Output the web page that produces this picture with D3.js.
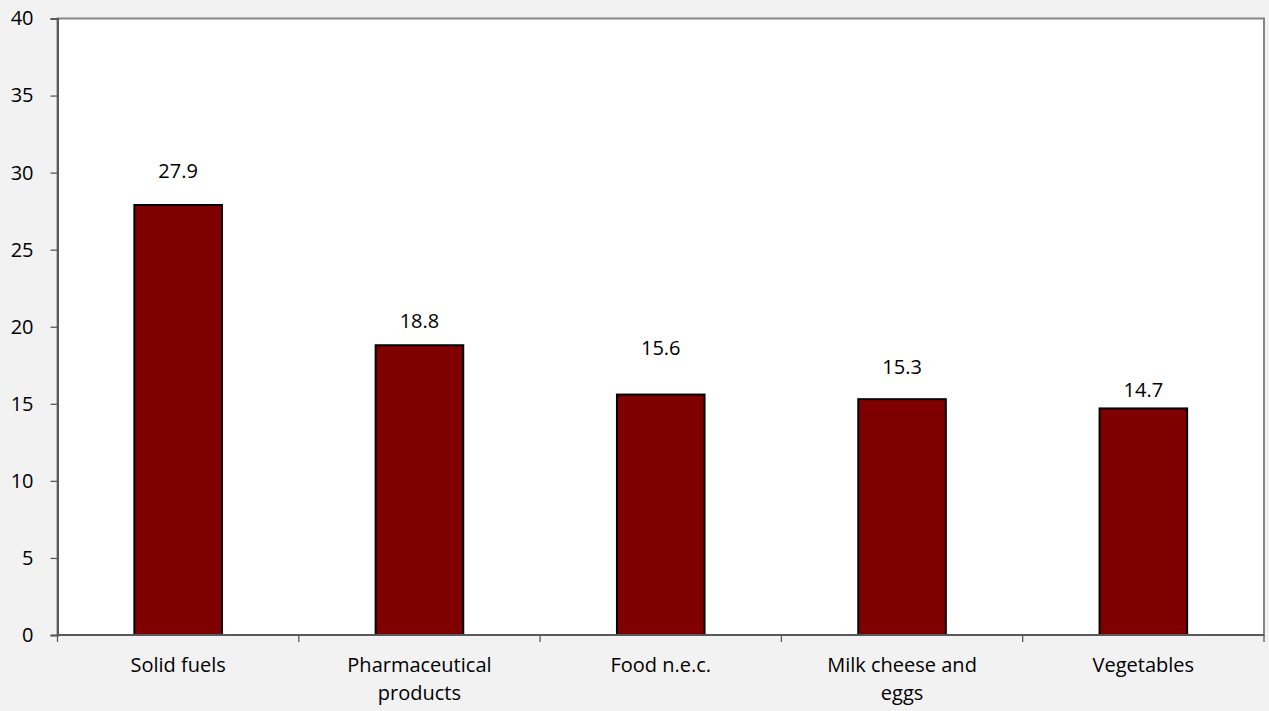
<!DOCTYPE html>
<html>
<head>
<meta charset="utf-8">
<script src="https://cdn.jsdelivr.net/npm/d3@7"></script>
<style>
	html, body { margin: 0; padding: 0; background: #f2f2f2; }
	svg { display: block; font-family: "Open Sans", sans-serif; }
</style>
</head>
<body>
<script>
const categories = ["Solid fuels", "Pharmaceutical products", "Food n.e.c.", "Milk cheese and eggs", "Vegetables"];
const values = [27.9, 18.8, 15.6, 15.3, 14.7];
const yTicks = [0, 5, 10, 15, 20, 25, 30, 35, 40];
const categoryLines = [["Solid fuels"], ["Pharmaceutical", "products"], ["Food n.e.c."], ["Milk cheese and", "eggs"], ["Vegetables"]];

// label offsets above the bar top, in px (excel placed them by hand)
const labelLift = [34, 24, 47, 32, 18];

const width = 1269, height = 711;
const margin = {top: 18.5, right: 5, bottom: 76, left: 57.5};
const fontSize = 20;

const svg = d3.select("body").append("svg")
	.attr("width", width)
	.attr("height", height);

const x = d3.scaleBand()
	.domain(categories)
	.range([margin.left, width - margin.right])
	.paddingInner(0.637)
	.paddingOuter(0.3185);

const band = d3.scaleBand()
	.domain(categories)
	.range([margin.left, width - margin.right]);

const y = d3.scaleLinear()
	.domain([0, 40])
	.range([height - margin.bottom, margin.top]);

// plot area
svg.append("rect")
	.attr("x", margin.left)
	.attr("y", margin.top)
	.attr("width", width - margin.right - margin.left)
	.attr("height", height - margin.bottom - margin.top)
	.attr("fill", "#fff")
	.attr("stroke", "#868686")
	.attr("stroke-width", 2);

// bars
svg.append("g")
	.selectAll("rect")
	.data(values)
	.enter()
	.append("rect")
		.attr("x", (d, i) => x(categories[i]))
		.attr("y", d => y(d))
		.attr("width", x.bandwidth())
		.attr("height", d => y(0) - y(d))
		.attr("fill", "#800000")
		.attr("stroke", "#000")
		.attr("stroke-width", 2);

// value labels
svg.append("g")
	.selectAll("text")
	.data(values)
	.enter()
	.append("text")
		.attr("x", (d, i) => x(categories[i]) + x.bandwidth() / 2)
		.attr("y", (d, i) => y(d) - labelLift[i])
		.attr("dy", "0.35em")
		.attr("text-anchor", "middle")
		.attr("font-size", fontSize)
		.attr("fill", "#000")
		.text(d => d.toFixed(1));

// y axis
const yAxis = svg.append("g")
	.attr("transform", `translate(${margin.left}, 0)`)
	.call(d3.axisLeft(y).tickValues(yTicks).tickSize(7).tickPadding(17));
yAxis.select(".domain").attr("stroke", "#595959").attr("stroke-width", 2);
yAxis.selectAll(".tick line").attr("stroke", "#595959").attr("stroke-width", 1.3);
yAxis.selectAll(".tick text").attr("font-size", fontSize).attr("fill", "#000").attr("font-family", "Open Sans");

// x axis: ticks at category boundaries
const xAxis = svg.append("g")
	.attr("transform", `translate(0, ${y(0)})`);
xAxis.append("line")
	.attr("x1", margin.left)
	.attr("x2", width - margin.right)
	.attr("stroke", "#595959")
	.attr("stroke-width", 2);
const bounds = categories.map(c => band(c)).concat([band.range()[1]]);
xAxis.selectAll("line.tick")
	.data(bounds)
	.enter()
	.append("line")
		.attr("class", "tick")
		.attr("x1", d => d)
		.attr("x2", d => d)
		.attr("y1", 0)
		.attr("y2", 7)
		.attr("stroke", "#595959")
		.attr("stroke-width", 1.3);

const xLabels = xAxis.selectAll("text")
	.data(categoryLines)
	.enter()
	.append("text")
		.attr("x", (d, i) => band(categories[i]) + band.bandwidth() / 2)
		.attr("y", 37)
		.attr("text-anchor", "middle")
		.attr("font-size", fontSize)
		.attr("fill", "#000");
xLabels.selectAll("tspan")
	.data((d, i) => d.map(line => ({line, i})))
	.enter()
	.append("tspan")
		.attr("x", d => band(categories[d.i]) + band.bandwidth() / 2)
		.attr("dy", (d, j) => j === 0 ? 0 : 28)
		.text(d => d.line);
</script>
</body>
</html>
